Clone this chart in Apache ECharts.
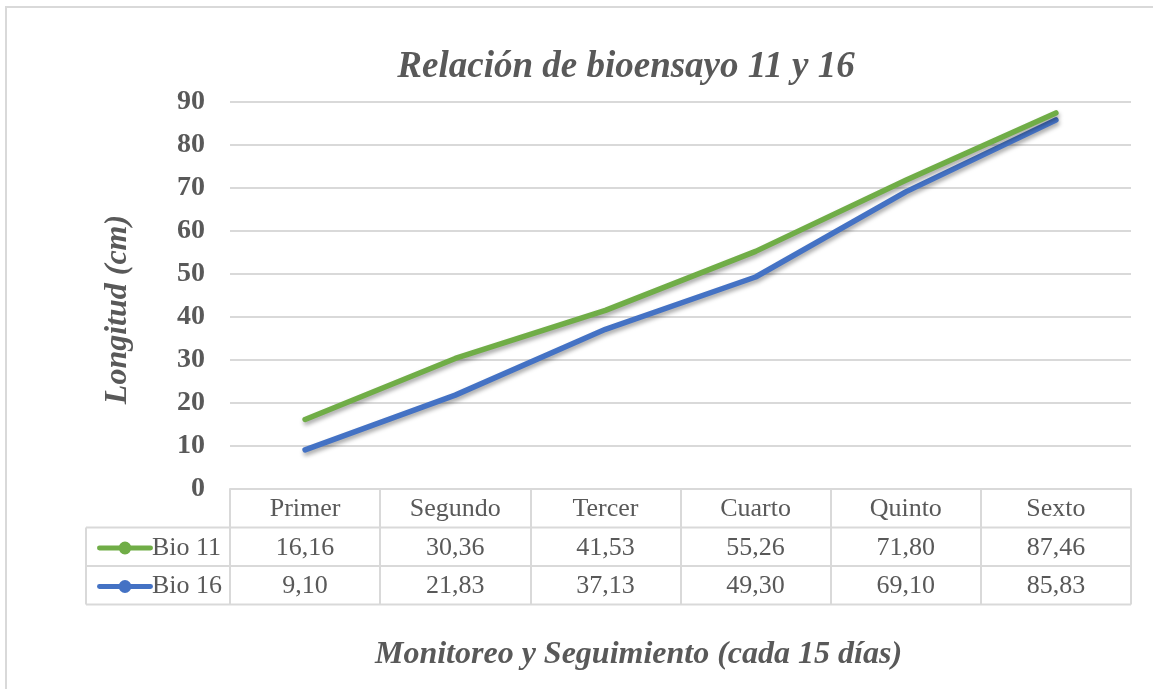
<!DOCTYPE html>
<html><head><meta charset="utf-8">
<script src="https://cdn.jsdelivr.net/npm/echarts@6/dist/echarts.min.js"></script>
<style>html,body{margin:0;padding:0;background:#fff}#c{width:1153px;height:689px}</style>
</head><body><div id="c"></div>
<script>
const categories = ['Primer','Segundo','Tercer','Cuarto','Quinto','Sexto'];
const bio11 = [16.16, 30.36, 41.53, 55.26, 71.80, 87.46];
const bio16 = [9.10, 21.83, 37.13, 49.30, 69.10, 85.83];
const seriesNames = ['Bio 11', 'Bio 16'];
const yTicks = [0,10,20,30,40,50,60,70,80,90];

const fmt = v => v.toFixed(2).replace('.', ',');
const FONT = 'Liberation Serif';
const GREY = '#595959';
const LINE = '#d9d9d9';
const ICON = 'path://M2,5.5 L54,5.5 A2.5,2.5 0 0 1 54,10.5 L2,10.5 A2.5,2.5 0 0 1 2,5.5 Z M28,1.5 A6.5,6.5 0 1 1 27.99,1.5 Z';

const chart = echarts.init(document.getElementById('c'), null, {renderer:'canvas'});
const gl = 230, gr = 1131, gt = 102, gb = 489, rowH = 38.5;
chart.setOption({
  animation:false,
  backgroundColor:'#fff',
  title:{text:'Relación de bioensayo 11 y 16', left:621, top:44, textAlign:'center',
    textStyle:{fontFamily:FONT, fontStyle:'italic', fontWeight:'bold', fontSize:37, color:GREY}},
  legend:{orient:'vertical', left:92, top:530, itemGap:rowH-26, itemWidth:56, itemHeight:16,
    data:seriesNames.map(n => ({name:n, icon:ICON})), selectedMode:false,
    textStyle:{fontFamily:FONT, fontSize:26, color:GREY, padding:[0,0,0,-6]}},
  grid:{left:gl, right:1153-gr, top:gt, bottom:689-gb},
  xAxis:{type:'category', data:categories, boundaryGap:true,
    name:'Monitoreo y Seguimiento (cada 15 días)', nameLocation:'middle', nameGap:150,
    nameTextStyle:{fontFamily:FONT, fontStyle:'italic', fontWeight:'bold', fontSize:32, color:GREY, padding:[0,84,0,0]},
    axisLine:{show:true, lineStyle:{color:LINE, width:2}},
    axisTick:{show:true, interval:0, length:3*rowH, inside:false, lineStyle:{color:LINE, width:2}},
    axisLabel:{interval:0, margin:1, lineHeight:rowH,
      formatter:(v, i) => '{h|' + v + '}\n{v|' + fmt(bio11[i]) + '}\n{v|' + fmt(bio16[i]) + '}',
      rich:{h:{fontFamily:FONT, fontSize:26, color:GREY, lineHeight:rowH},
            v:{fontFamily:FONT, fontSize:26, color:GREY, lineHeight:rowH}}}},
  yAxis:{type:'value', min:0, max:90, interval:10,
    name:'Longitud (cm)', nameLocation:'middle', nameGap:96, nameRotate:90,
    nameTextStyle:{fontFamily:FONT, fontStyle:'italic', fontWeight:'bold', fontSize:32, color:GREY, padding:[0,28,0,0]},
    axisLine:{show:false}, axisTick:{show:false},
    axisLabel:{margin:25, fontFamily:FONT, fontWeight:'bold', fontSize:28, color:GREY,
      formatter:v => yTicks.includes(v) ? String(v) : ''},
    splitLine:{lineStyle:{color:LINE, width:2}}},
  series:[
    {name:seriesNames[0], type:'line', data:bio11, color:'#70AD47', symbol:'circle', symbolSize:12, showSymbol:false,
     lineStyle:{width:5.5, cap:'round', join:'round', shadowBlur:4, shadowColor:'rgba(0,0,0,0.35)', shadowOffsetY:3, shadowOffsetX:1}, z:3},
    {name:seriesNames[1], type:'line', data:bio16, color:'#4472C4', symbol:'circle', symbolSize:12, showSymbol:false,
     lineStyle:{width:5.5, cap:'round', join:'round', shadowBlur:4, shadowColor:'rgba(0,0,0,0.35)', shadowOffsetY:3, shadowOffsetX:1}, z:2}
  ],
  graphic:[
    {type:'rect', shape:{x:6, y:7, width:1200, height:720}, style:{fill:'none', stroke:LINE, lineWidth:2}, silent:true, z:-1},
    {type:'line', shape:{x1:86, y1:gb+rowH, x2:gr, y2:gb+rowH}, style:{stroke:LINE, lineWidth:2}},
    {type:'line', shape:{x1:86, y1:gb+2*rowH, x2:gr, y2:gb+2*rowH}, style:{stroke:LINE, lineWidth:2}},
    {type:'line', shape:{x1:86, y1:gb+3*rowH, x2:gr, y2:gb+3*rowH}, style:{stroke:LINE, lineWidth:2}},
    {type:'line', shape:{x1:86, y1:gb+rowH, x2:86, y2:gb+3*rowH}, style:{stroke:LINE, lineWidth:2}}
  ]
});
</script></body></html>
